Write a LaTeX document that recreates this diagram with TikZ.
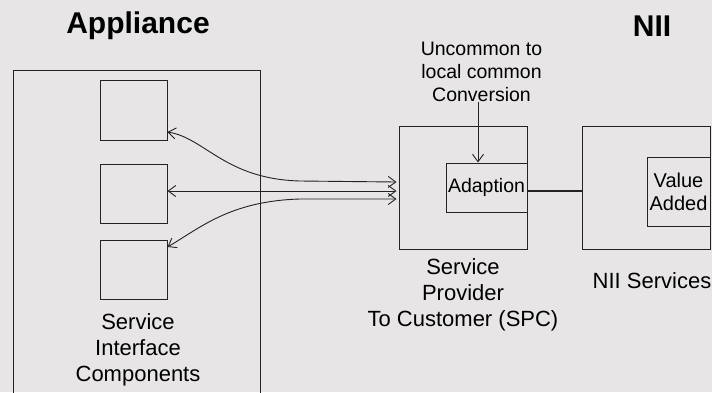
\documentclass[tikz,border=0pt]{standalone}
\usepackage{fontspec}
\setmainfont{Liberation Sans}
\usetikzlibrary{arrows.meta}
\definecolor{paper}{RGB}{231,229,229}
\definecolor{ink}{RGB}{35,35,35}
\tikzset{
  boxshape/.style={draw=ink, line width=1pt, inner sep=0pt},
  lbl/.style={text=black, align=center, inner sep=0pt},
  bodyfont/.style={font=\fontsize{22}{26}\selectfont},
  smallfont/.style={font=\fontsize{19.5}{23}\selectfont},
  titlefont/.style={font=\bfseries\fontsize{30}{34}\selectfont},
  link/.style={draw=ink, line width=0.9pt,
    {Straight Barb[length=7.5pt,width=11pt]}-{Straight Barb[length=7.5pt,width=11pt]}},
  downarrow/.style={draw=ink, line width=0.9pt, -{Straight Barb[length=7.5pt,width=11pt]}},
  thickline/.style={draw=ink, line width=2.4pt},
}
\begin{document}
\begin{tikzpicture}[x=1pt,y=-1pt]
  % page and background
  \fill[paper] (0,0) rectangle (712,392);
  \path[use as bounding box] (0,0) rectangle (712,392);

  % titles
  \node[lbl, titlefont] (tapp) at (138,26) {Appliance};
  \node[lbl, titlefont] (tnii) at (652,26) {NII};

  % appliance enclosure, continuing below the page edge
  \draw[ink, line width=1pt] (13,400) -- (13,70) -- (260,70) -- (260,400);

  % service interface components
  \node[boxshape, minimum width=67pt, minimum height=60pt] (sic1) at (133.5,110) {};
  \node[boxshape, minimum width=67pt, minimum height=59pt] (sic2) at (133.5,193.5) {};
  \node[boxshape, minimum width=67pt, minimum height=59pt] (sic3) at (133.5,269.5) {};
  \node[lbl, bodyfont] (sictext) at (138,350) {Service\\Interface\\Components};

  % service provider to customer
  \node[boxshape, minimum width=128pt, minimum height=123pt] (spc) at (463,187.5) {};
  \node[boxshape, minimum width=81pt, minimum height=49pt, smallfont] (adapt) at (486.5,187.5) {Adaption};
  \node[lbl, bodyfont] (spctext) at (463,295) {Service\\Provider\\To Customer (SPC)};

  % NII services
  \node[boxshape, minimum width=128pt, minimum height=123pt] (nii) at (646,187.5) {};
  \node[boxshape, minimum width=63pt, minimum height=69pt, align=center,
        font=\fontsize{20}{23}\selectfont] (value) at (678.5,191.5) {Value\\Added};
  \node[lbl, bodyfont] (niitext) at (652,281) {NII Services};

  % conversion note
  \node[lbl, smallfont] (conv) at (481.5,72) {Uncommon to\\local common\\Conversion};
  \draw[downarrow] ([xshift=-3.5pt]conv.south) -- ([xshift=-8.5pt]adapt.north);

  % links between components and the provider
  \coordinate (r1) at ([xshift=-2pt,yshift=5.5pt]spc.west);
  \coordinate (r2) at ([xshift=-2pt,yshift=-3.5pt]spc.west);
  \coordinate (r3) at ([xshift=-2pt,yshift=-11.5pt]spc.west);
  \coordinate (l1) at ([yshift=-22pt]sic1.east);
  \coordinate (l2) at ([yshift=2.5pt]sic2.east);
  \coordinate (l3) at ([yshift=22.5pt]sic3.east);
  \draw[link] (l1) .. controls (205,138) and (225,179) .. (300,181) -- (r1);
  \draw[link] (l2) -- (r2);
  \draw[link] (l3) .. controls (200,228) and (230,201) .. (300,199) -- (r3);

  % provider to NII connection
  \draw[thickline] ([yshift=-3.5pt]adapt.east) -- ([yshift=-3.5pt]adapt.east -| nii.west);
\end{tikzpicture}
\end{document}
